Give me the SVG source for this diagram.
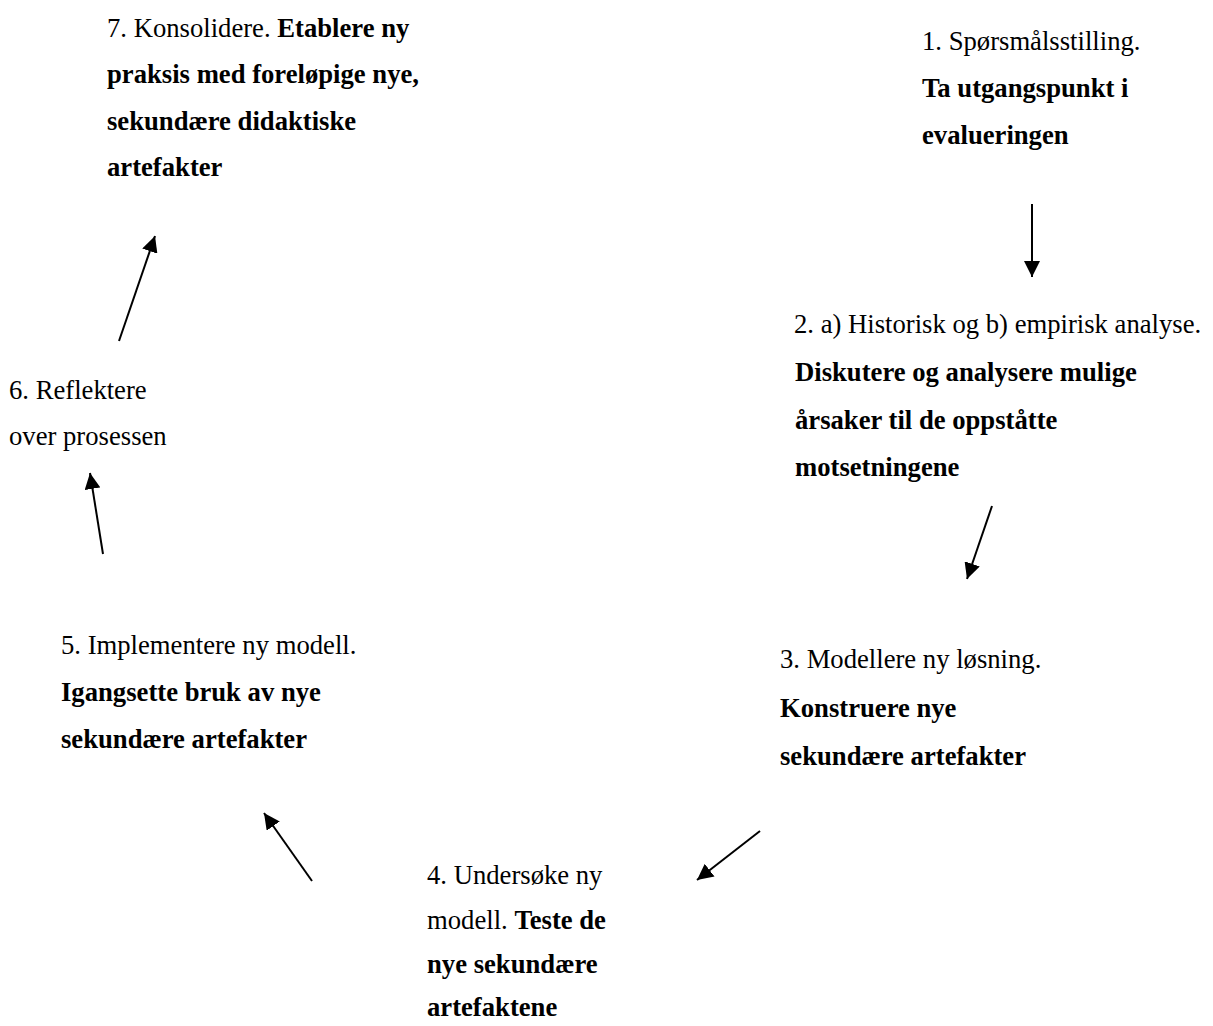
<svg xmlns="http://www.w3.org/2000/svg" width="1213" height="1026" viewBox="0 0 1213 1026">
<style>
text{font-family:"Liberation Serif","Times New Roman",serif;font-size:26.67px;fill:#000}
.b{font-weight:bold}
.c line{stroke:#000;stroke-width:2;fill:none}
</style>
<defs>
<marker id="ah" markerUnits="userSpaceOnUse" markerWidth="16" markerHeight="16" refX="16" refY="8" orient="auto">
<path d="M0,0 L16,8 L0,16 z" fill="#000"/>
</marker>
</defs>
<rect width="1213" height="1026" fill="#fff"/>
<g id="n1">
<text x="922" y="50">1. Spørsmålsstilling.</text>
<text x="922" y="97" class="b">Ta utgangspunkt i</text>
<text x="922" y="144" class="b">evalueringen</text>
</g>
<g id="n2">
<text x="794" y="333">2. a) Historisk og b) empirisk analyse.</text>
<text x="795" y="381" class="b">Diskutere og analysere mulige</text>
<text x="795" y="429" class="b">årsaker til de oppståtte</text>
<text x="795" y="476" class="b">motsetningene</text>
</g>
<g id="n3">
<text x="780" y="668">3. Modellere ny løsning.</text>
<text x="780" y="717" class="b">Konstruere nye</text>
<text x="780" y="765" class="b">sekundære artefakter</text>
</g>
<g id="n4">
<text x="427" y="884">4. Undersøke ny</text>
<text x="427" y="929">modell. <tspan class="b">Teste de</tspan></text>
<text x="427" y="973" class="b">nye sekundære</text>
<text x="427" y="1016" class="b">artefaktene</text>
</g>
<g id="n5">
<text x="61" y="654">5. Implementere ny modell.</text>
<text x="61" y="701" class="b">Igangsette bruk av nye</text>
<text x="61" y="748" class="b">sekundære artefakter</text>
</g>
<g id="n6">
<text x="9" y="399">6. Reflektere</text>
<text x="9" y="445">over prosessen</text>
</g>
<g id="n7">
<text x="107" y="37">7. Konsolidere. <tspan class="b">Etablere ny</tspan></text>
<text x="107" y="83" class="b">praksis med foreløpige nye,</text>
<text x="107" y="130" class="b">sekundære didaktiske</text>
<text x="107" y="176" class="b">artefakter</text>
</g>
<g id="connectors" class="c">
<line x1="1032" y1="204" x2="1032" y2="277" marker-end="url(#ah)"/>
<line x1="992" y1="506" x2="967" y2="579" marker-end="url(#ah)"/>
<line x1="760" y1="831" x2="697" y2="880" marker-end="url(#ah)"/>
<line x1="312" y1="881" x2="264" y2="813" marker-end="url(#ah)"/>
<line x1="103" y1="554" x2="90" y2="473" marker-end="url(#ah)"/>
<line x1="119" y1="341" x2="155" y2="236" marker-end="url(#ah)"/>
</g>
</svg>
